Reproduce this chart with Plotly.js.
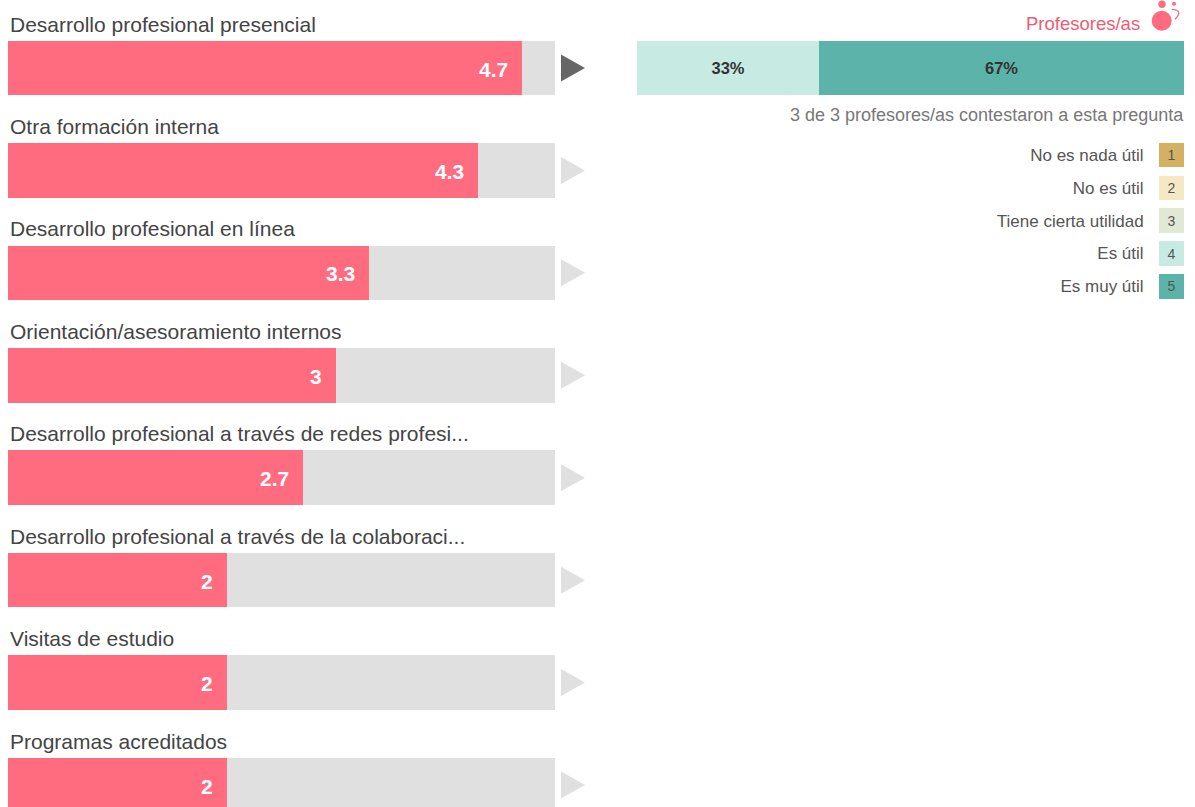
<!DOCTYPE html>
<html><head><meta charset="utf-8">
<script src="https://cdn.plot.ly/plotly-3.0.1.min.js"></script>
<style>html,body{margin:0;padding:0;background:#fff;overflow:hidden}#c{width:1195px;height:807px}</style>
</head><body><div id="c"></div>
<script>
const categories = ["Desarrollo profesional presencial","Otra formación interna","Desarrollo profesional en línea","Orientación/asesoramiento internos","Desarrollo profesional a través de redes profesi...","Desarrollo profesional a través de la colaboraci...","Visitas de estudio","Programas acreditados"];
const scores = [4.7,4.3,3.3,3,2.7,2,2,2];
const scaleMax = 5;
const remainder = scores.map(v => +(scaleMax - v).toFixed(1));
const answerCounts = [1,2];
const answerLabels = ["33%","67%"];
const answerColors = ["#c7eae3","#5bb3a9"];
const legendLabels = ["No es nada útil","No es útil","Tiene cierta utilidad","Es útil","Es muy útil"];
const legendNumbers = ["1","2","3","4","5"];
const legendColors = ["#d4b062","#f5e8c4","#e1e9d5","#c7eae3","#5bb3a9"];
const FONT = '"Liberation Sans", Arial, sans-serif';
const W = 1195, H = 807;
const barW = 54.5/102.43;

const traces = [
 {type:'bar',orientation:'h',y:categories,x:scores,width:barW,marker:{color:'#ff6b7f'},hoverinfo:'skip',xaxis:'x',yaxis:'y'},
 {type:'bar',orientation:'h',y:categories,x:remainder,width:barW,marker:{color:'#e0e0e0'},hoverinfo:'skip',xaxis:'x',yaxis:'y'}
];
answerCounts.forEach((c,i)=>traces.push({type:'bar',orientation:'h',y:[categories[0]],x:[c],width:barW,marker:{color:answerColors[i]},
  text:[answerLabels[i]],textposition:'inside',insidetextanchor:'middle',textangle:0,constraintext:'none',
  textfont:{family:FONT,size:16.5,color:'#333',weight:700},hoverinfo:'skip',xaxis:'x2',yaxis:'y'}));
traces.push({type:'bar',orientation:'h',y:legendLabels,x:legendLabels.map(()=>1),width:0.75,marker:{color:legendColors},
  text:legendNumbers,textposition:'inside',insidetextanchor:'middle',textangle:0,constraintext:'none',
  textfont:{family:FONT,size:14,color:'#555'},hoverinfo:'skip',xaxis:'x3',yaxis:'y3'});

const annotations = [];
categories.forEach((c,i)=>{
  annotations.push({xref:'x',yref:'y',x:0,y:c,xanchor:'left',yanchor:'middle',yshift:44,showarrow:false,xshift:0,
    text:c,font:{family:FONT,size:21,color:'#444'}});
  annotations.push({xref:'x',yref:'y',x:scores[i],y:c,xanchor:'right',yanchor:'middle',xshift:-12,yshift:-1,showarrow:false,
    text:'<b>'+scores[i]+'</b>',font:{family:FONT,size:21,color:'#fff'}});
});
annotations.push({xref:'paper',yref:'paper',x:1142/W,y:1-23/H,xanchor:'right',yanchor:'middle',showarrow:false,text:'Profesores/as',font:{family:FONT,size:18.5,color:'#ef5b72'}});
annotations.push({xref:'paper',yref:'paper',x:1184/W,y:1-115/H,xanchor:'right',yanchor:'middle',showarrow:false,xshift:2,text:'3 de 3 profesores/as contestaron a esta pregunta',font:{family:FONT,size:18,color:'#777'}});

const shapes = categories.map((c,i)=>({type:'path',xref:'x',yref:'y',xsizemode:'pixel',ysizemode:'pixel',xanchor:scaleMax,yanchor:c,
  path:'M 6 -13.5 L 30 0 L 6 13.5 Z',fillcolor:i===0?'#666666':'#e0e0e0',line:{width:0}}));
function circle(cx,cy,r,col){return {type:'circle',xref:'paper',yref:'paper',x0:(cx-r)/W,x1:(cx+r)/W,y0:1-(cy+r)/H,y1:1-(cy-r)/H,fillcolor:col,line:{width:0}};}
shapes.push(circle(1161.7,20.7,10,'#ff6b7f'),circle(1162,4.3,3.7,'#ff6b7f'),circle(1174,3.7,2,'#ff6b7f'));
shapes.push({type:'path',xref:'paper',yref:'paper',
  path:`M ${1171.7/W} ${1-9.3/H} Q ${1184/W} ${1-10/H} ${1175/W} ${1-19.3/H}`,line:{color:'#ff6b7f',width:1.3},fillcolor:'rgba(0,0,0,0)'});

const hidden = {visible:false,fixedrange:true};
const layout = {
 width:W,height:H,margin:{l:0,r:0,t:0,b:0},paper_bgcolor:'#fff',plot_bgcolor:'rgba(0,0,0,0)',barmode:'stack',showlegend:false,
 font:{family:FONT},
 xaxis:{...hidden,domain:[8/W,590/W],range:[0,582/109.4],anchor:'y'},
 yaxis:{...hidden,domain:[0,1],type:'category',categoryorder:'array',categoryarray:categories,range:[(H-68)/102.43,-68/102.43],anchor:'x'},
 xaxis2:{...hidden,domain:[637/W,1184/W],range:[0,3],anchor:'y'},
 xaxis3:{...hidden,domain:[1159/W,1184/W],range:[0,1],anchor:'y3'},
 yaxis3:{domain:[1-302.75/H,1-138.6/H],type:'category',categoryorder:'array',categoryarray:legendLabels,range:[4.5,-0.5],anchor:'x3',
   fixedrange:true,showgrid:false,zeroline:false,showline:false,ticks:'outside',ticklen:11,tickcolor:'rgba(0,0,0,0)',
   tickfont:{family:FONT,size:17,color:'#555'}},
 annotations,shapes
};
Plotly.newPlot('c',traces,layout,{displayModeBar:false,staticPlot:true});
</script></body></html>
